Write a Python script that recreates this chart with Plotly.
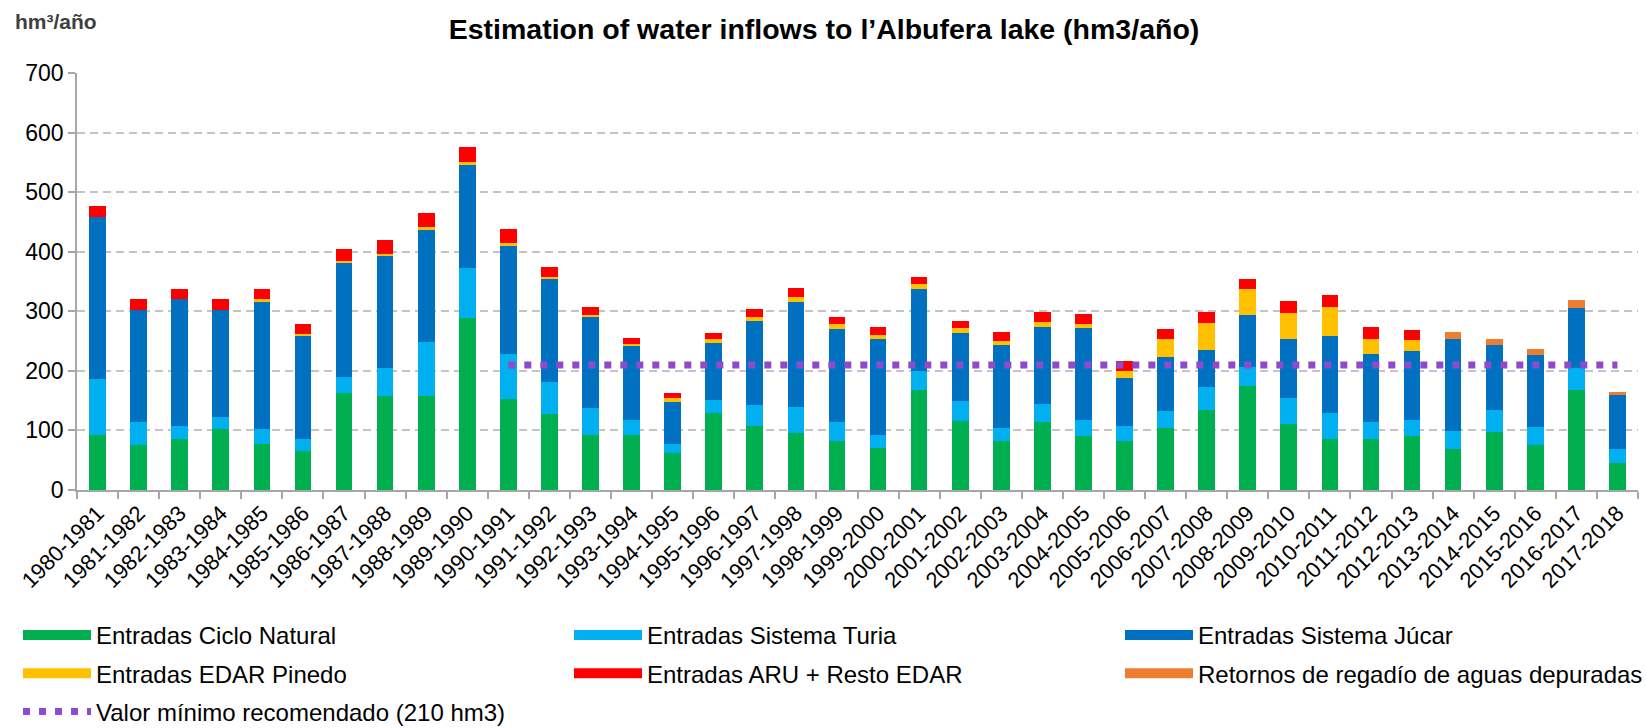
import plotly.graph_objects as go

years = ["1980-1981", "1981-1982", "1982-1983", "1983-1984", "1984-1985", "1985-1986",
         "1986-1987", "1987-1988", "1988-1989", "1989-1990", "1990-1991", "1991-1992",
         "1992-1993", "1993-1994", "1994-1995", "1995-1996", "1996-1997", "1997-1998",
         "1998-1999", "1999-2000", "2000-2001", "2001-2002", "2002-2003", "2003-2004",
         "2004-2005", "2005-2006", "2006-2007", "2007-2008", "2008-2009", "2009-2010",
         "2010-2011", "2011-2012", "2012-2013", "2013-2014", "2014-2015", "2015-2016",
         "2016-2017", "2017-2018"]

ciclo_natural = [93, 76, 85, 102, 77, 65, 163, 158, 158, 289, 153, 127, 93, 92, 62, 130, 108, 95,
                 83, 71, 168, 116, 83, 114, 91, 83, 104, 135, 175, 111, 86, 85, 91, 68, 98, 76, 168, 45]
sistema_turia = [93, 38, 22, 21, 26, 20, 27, 46, 90, 83, 76, 55, 44, 25, 15, 21, 35, 45,
                 31, 22, 32, 33, 21, 30, 26, 25, 28, 38, 31, 43, 44, 29, 26, 31, 37, 30, 36, 24]
sistema_jucar = [272, 189, 214, 180, 214, 175, 192, 188, 190, 175, 182, 172, 154, 125, 71, 96, 140, 175,
                 157, 161, 138, 115, 139, 129, 155, 80, 91, 62, 88, 99, 128, 114, 116, 154, 109, 121, 102, 90]
edar_pinedo = [0, 0, 0, 0, 3, 2, 3, 4, 3, 3, 3, 4, 3, 3, 6, 6, 8, 9,
               8, 7, 8, 8, 7, 9, 7, 11, 31, 46, 43, 44, 50, 26, 18, 0, 0, 0, 0, 0]
aru_resto_edar = [18, 18, 17, 17, 17, 17, 19, 23, 24, 25, 24, 17, 13, 10, 8, 11, 13, 15,
                  12, 12, 12, 12, 16, 17, 17, 18, 17, 18, 18, 20, 20, 19, 18, 0, 0, 0, 0, 0]
retornos = [0, 0, 0, 0, 0, 0, 0, 0, 0, 0, 0, 0, 0, 0, 0, 0, 0, 0,
            0, 0, 0, 0, 0, 0, 0, 0, 0, 0, 0, 0, 0, 0, 0, 12, 10, 9, 13, 6]
valor_minimo = [None] * 10 + [210] * 28

series = [
    ("Entradas Ciclo Natural", ciclo_natural, "#00B050", "legend"),
    ("Entradas Sistema Turia", sistema_turia, "#00B0F0", "legend2"),
    ("Entradas Sistema Júcar", sistema_jucar, "#0070C0", "legend3"),
    ("Entradas EDAR Pinedo", edar_pinedo, "#FFC000", "legend"),
    ("Entradas ARU + Resto EDAR", aru_resto_edar, "#FF0000", "legend2"),
    ("Retornos de regadío de aguas depuradas", retornos, "#ED7D31", "legend3"),
]

FONT = "Liberation Sans, Arial, sans-serif"
fig = go.Figure()

for name, vals, color, lg in series:
    fig.add_trace(go.Bar(x=years, y=vals, name=name, marker=dict(color=color, line=dict(width=0)),
                         showlegend=False))

# legend entries (wide swatches)
for i, (name, vals, color, lg) in enumerate(series):
    fig.add_trace(go.Scatter(x=years, y=[None] * len(years), mode="lines", name=name,
                             line=dict(color=color, width=11), legend=lg,
                             legendgroup="g%d" % i, hoverinfo="skip"))

fig.add_trace(go.Scatter(x=years, y=valor_minimo, mode="lines",
                         name="Valor mínimo recomendado (210 hm3)",
                         line=dict(color="#8E4BCB", width=7, dash="7px,9px"),
                         legend="legend", legendgroup="g_min", connectgaps=False))

leg_common = dict(orientation="v", xref="container", yref="container", xanchor="left",
                  yanchor="top", y=1 - 613 / 728, font=dict(family=FONT, size=24, color="#000000"),
                  itemwidth=68, tracegroupgap=4, bgcolor="rgba(0,0,0,0)", traceorder="grouped")

fig.update_layout(
    width=1646, height=728,
    margin=dict(l=77, r=8, t=72.7, b=238.3, autoexpand=False),
    paper_bgcolor="white", plot_bgcolor="white",
    barmode="stack", bargap=0.594,
    font=dict(family=FONT, color="#000000"),
    title=dict(text="<b>Estimation of water inflows to l’Albufera lake (hm3/año)</b>",
               xref="container", yref="container", x=824 / 1646, y=1 - 29 / 728,
               xanchor="center", yanchor="middle", font=dict(family=FONT, size=28.5, color="#000000")),
    legend=dict(leg_common, x=18 / 1646),
    legend2=dict(leg_common, x=569 / 1646),
    legend3=dict(leg_common, x=1120 / 1646),
    xaxis=dict(type="category", showline=True, linecolor="#A6A6A6", linewidth=1.5,
               ticks="outside", tickson="boundaries", ticklen=7, tickcolor="#A6A6A6", tickwidth=1.5,
               tickangle=-45, tickfont=dict(family=FONT, size=22, color="#000000"), showgrid=False),
    yaxis=dict(range=[0, 700], dtick=100, showline=True, linecolor="#A6A6A6", linewidth=1.5,
               ticks="outside", ticklen=7, tickcolor="#A6A6A6", tickwidth=1.5,
               gridcolor="#C4C4C4", gridwidth=1.5, griddash="8px,5px", zeroline=False,
               tickfont=dict(family=FONT, size=23, color="#000000")),
    annotations=[dict(text="<b>hm³/año</b>", xref="paper", yref="paper",
                      x=(13 - 77) / 1561, y=(489.7 - 21) / 417, xanchor="left", yanchor="middle",
                      showarrow=False, font=dict(family=FONT, size=21, color="#404040"))],
)

fig.write_html("out.html", config={"displayModeBar": False},
               post_script="document.body.style.margin='0';")
